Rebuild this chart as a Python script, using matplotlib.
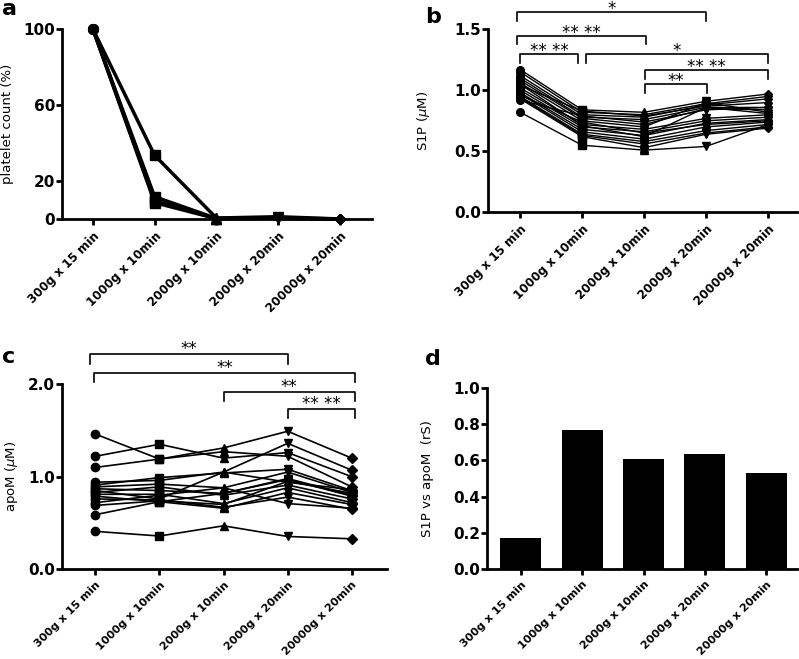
import numpy as np
import matplotlib
matplotlib.use("Agg")
import matplotlib.pyplot as plt

plt.rcParams["font.family"] = ["DejaVu Sans"]

categories = ["300g x 15 min", "1000g x 10min", "2000g x 10min", "2000g x 20min", "20000g x 20min"]
markers = ["o", "s", "^", "v", "D"]

# panel a: platelet count (%)
platelets = [
    [100, 33.5, 0.5, 1.2, 0.0],
    [100, 11.7, 0.3, 0.6, 0.0],
    [100, 9.6, 0.2, 0.4, 0.0],
    [100, 8.6, 0.2, 0.3, 0.0],
]

# panel b: S1P (uM), one row per donor
s1p = [
    [1.17, 0.84, 0.82, 0.91, 0.97],
    [1.15, 0.82, 0.80, 0.89, 0.95],
    [1.12, 0.80, 0.78, 0.88, 0.93],
    [1.10, 0.78, 0.76, 0.86, 0.86],
    [1.08, 0.77, 0.72, 0.85, 0.84],
    [1.06, 0.75, 0.70, 0.90, 0.82],
    [1.04, 0.83, 0.79, 0.87, 0.90],
    [1.02, 0.72, 0.68, 0.77, 0.80],
    [1.00, 0.70, 0.66, 0.75, 0.78],
    [0.98, 0.68, 0.63, 0.73, 0.76],
    [0.97, 0.66, 0.60, 0.70, 0.74],
    [0.95, 0.64, 0.58, 0.67, 0.72],
    [0.94, 0.63, 0.56, 0.65, 0.70],
    [0.93, 0.62, 0.53, 0.64, 0.69],
    [0.92, 0.79, 0.74, 0.84, 0.86],
    [0.96, 0.74, 0.65, 0.72, 0.75],
    [1.05, 0.71, 0.62, 0.86, 0.81],
    [0.82, 0.55, 0.51, 0.54, 0.72],
]

# panel c: apoM (uM)
apom = [
    [1.46, 1.19, 1.27, 1.22, 0.89],
    [1.22, 1.35, 1.20, 1.26, 1.00],
    [1.10, 1.19, 1.31, 1.49, 1.20],
    [0.94, 0.96, 1.05, 1.36, 1.07],
    [0.91, 0.99, 1.04, 1.08, 0.85],
    [0.89, 0.92, 0.88, 1.05, 0.83],
    [0.87, 0.85, 0.82, 0.98, 0.80],
    [0.85, 0.76, 1.05, 0.94, 0.86],
    [0.83, 0.89, 0.80, 0.91, 0.76],
    [0.81, 0.81, 0.71, 0.88, 0.72],
    [0.79, 0.73, 0.66, 0.83, 0.70],
    [0.76, 0.75, 0.67, 0.78, 0.65],
    [0.72, 0.80, 0.88, 0.71, 0.66],
    [0.69, 0.74, 0.70, 0.95, 0.82],
    [0.59, 0.73, 0.82, 0.97, 0.79],
    [0.41, 0.36, 0.47, 0.355, 0.33],
]

# panel d: spearman r, S1P vs apoM
rs = [0.17, 0.77, 0.605, 0.635, 0.53]

# significance brackets: (x1, x2, y, drop, label)
s1p_sig = [
    (-0.05, 3.0, 1.64, 0.07, "*"),
    (-0.05, 2.03, 1.445, 0.065, "** **"),
    (0.0, 0.94, 1.30, 0.08, "** **"),
    (1.06, 4.0, 1.30, 0.08, "*"),
    (2.02, 4.0, 1.166, 0.075, "** **"),
    (2.02, 3.02, 1.05, 0.075, "**"),
]
apom_sig = [
    (-0.08, 3.0, 2.32, 0.10, "**"),
    (-0.02, 4.05, 2.12, 0.10, "**"),
    (2.0, 4.05, 1.915, 0.10, "**"),
    (3.0, 4.05, 1.73, 0.10, "** **"),
]

x = np.arange(len(categories))

fig = plt.figure(figsize=(7.99, 6.59), dpi=100)
ax_a = fig.add_axes([0.0776, 0.6677, 0.388, 0.2883])
ax_b = fig.add_axes([0.6108, 0.6778, 0.3867, 0.2777])
ax_c = fig.add_axes([0.0776, 0.136, 0.4068, 0.2813])
ax_d = fig.add_axes([0.6095, 0.1366, 0.388, 0.2747])


def style(ax, xsize):
    for s in ["top", "right"]:
        ax.spines[s].set_visible(False)
    for s in ["left", "bottom"]:
        ax.spines[s].set_linewidth(2)
    ax.tick_params(width=2, length=4, labelsize=11)
    ax.tick_params(axis="y", pad=1)
    for lab in ax.get_yticklabels():
        lab.set_fontweight("bold")
    ax.set_xticks(x)
    ax.set_xticklabels(categories, rotation=45, ha="right", rotation_mode="anchor",
                       fontsize=xsize, fontweight="bold")


def paired(ax, rows, lw, ms):
    for row in rows:
        ax.plot(x, row, color="black", lw=lw, zorder=2, clip_on=False)
    for i, m in enumerate(markers):
        col = [row[i] for row in rows]
        size = ms * 0.8 if m == "D" else ms
        ax.plot([x[i]] * len(col), col, ls="none", marker=m, color="black",
                markersize=size, zorder=3, clip_on=False)


def brackets(ax, sig, off):
    for x1, x2, y, drop, label in sig:
        ax.plot([x1, x1, x2, x2], [y - drop, y, y, y - drop], color="black",
                lw=1.2, clip_on=False)
        ax.annotate(label, ((x1 + x2) / 2, y), xytext=(0, off), textcoords="offset points",
                    ha="center", va="baseline", fontsize=12, annotation_clip=False)


paired(ax_a, platelets, 2.5, 7)
ax_a.set_xlim(-0.5, 4.52)
ax_a.set_ylim(0, 100)
ax_a.set_yticks([0, 20, 60, 100])
ax_a.set_ylabel("platelet count (%)", fontsize=9.5, labelpad=7)
style(ax_a, 8.6)

paired(ax_b, s1p, 1.0, 5.5)
ax_b.set_xlim(-0.52, 4.47)
ax_b.set_ylim(0, 1.5)
ax_b.set_yticks([0, 0.5, 1.0, 1.5])
ax_b.set_yticklabels(["0.0", "0.5", "1.0", "1.5"])
ax_b.set_ylabel("S1P ($\\mu$M)", fontsize=9.5, labelpad=16)
brackets(ax_b, s1p_sig, -1.5)
style(ax_b, 8.6)

paired(ax_c, apom, 1.2, 6)
ax_c.set_xlim(-0.52, 4.55)
ax_c.set_ylim(0, 2.0)
ax_c.set_yticks([0, 1.0, 2.0])
ax_c.set_yticklabels(["0.0", "1.0", "2.0"])
ax_c.set_ylabel("apoM ($\\mu$M)", fontsize=9.5, labelpad=6)
brackets(ax_c, apom_sig, 0)
style(ax_c, 8.0)

ax_d.bar(x, rs, width=0.67, color="black")
ax_d.set_xlim(-0.55, 4.5)
ax_d.set_ylim(0, 1.0)
ax_d.set_yticks(np.arange(0, 1.01, 0.2))
ax_d.set_yticklabels(["0.0", "0.2", "0.4", "0.6", "0.8", "1.0"])
ax_d.set_ylabel("S1P vs apoM  (rS)", fontsize=9.5, labelpad=14)
style(ax_d, 8.0)

for lab, xx, yy in [("a", 2, 15), ("b", 425, 23), ("c", 2, 363), ("d", 425, 365)]:
    fig.text(xx / 799, 1 - yy / 659, lab, fontsize=16, fontweight="bold",
             ha="left", va="baseline")

fig.savefig("out.png", dpi=100)
